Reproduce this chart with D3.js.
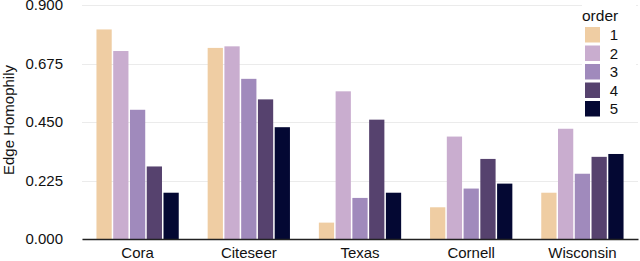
<!DOCTYPE html>
<html>
<head>
<meta charset="utf-8">
<script src="https://cdn.jsdelivr.net/npm/d3@7"></script>
<style>
  body { margin: 0; background: #fff; }
  svg text { font-family: "Liberation Sans", Arial, sans-serif; }
</style>
</head>
<body>
<svg id="chart" width="640" height="261"></svg>
<script>
// datasets and orders
var datasets = ["Cora", "Citeseer", "Texas", "Cornell", "Wisconsin"];
var orders = ["1", "2", "3", "4", "5"];
var order1 = [0.806, 0.735, 0.063, 0.122, 0.178];
var order2 = [0.723, 0.741, 0.568, 0.394, 0.424];
var order3 = [0.497, 0.616, 0.158, 0.194, 0.251];
var order4 = [0.279, 0.537, 0.459, 0.308, 0.316];
var order5 = [0.178, 0.430, 0.178, 0.213, 0.327];
var yTicks = [0, 0.225, 0.45, 0.675, 0.9];
var colors = ["#efcda3", "#c9adcf", "#a08abc", "#56426e", "#040833"];

var series = [order1, order2, order3, order4, order5];

var margin = { top: 5, right: 2, bottom: 22, left: 82 };
var width = 640 - margin.left - margin.right;
var height = 261 - margin.top - margin.bottom;

var svg = d3.select("#chart")
    .append("g")
    .attr("transform", "translate(" + margin.left + "," + margin.top + ")");

var x0 = d3.scaleBand().domain(datasets).range([0, width]).paddingInner(0.26).paddingOuter(0.13);
var x1 = d3.scaleBand().domain(orders).range([0, x0.bandwidth()]).paddingInner(0.09).paddingOuter(0);
var y = d3.scaleLinear().domain([0, 0.9]).range([height, 0]);

// grid lines
svg.append("g")
    .selectAll("line")
    .data(yTicks)
    .enter().append("line")
    .attr("x1", 0)
    .attr("x2", width)
    .attr("y1", function (d) { return Math.round(y(d)) + 0.5; })
    .attr("y2", function (d) { return Math.round(y(d)) + 0.5; })
    .attr("stroke", "#ebebeb")
    .attr("stroke-width", 1);

// y axis labels
svg.append("g")
    .attr("class", "yaxis")
    .call(d3.axisLeft(y).tickValues(yTicks).tickFormat(d3.format(".3f")).tickSize(0).tickPadding(19))
    .call(function (g) { g.select(".domain").remove(); })
    .selectAll("text")
    .attr("font-size", 15)
    .attr("fill", "#111");

// bars
var groups = svg.selectAll(".group")
    .data(datasets)
    .enter().append("g")
    .attr("class", "group")
    .attr("transform", function (d) { return "translate(" + x0(d) + ",0)"; });

groups.selectAll("rect")
    .data(function (d, i) {
        return series.map(function (s, k) { return { key: orders[k], value: s[i], color: colors[k] }; });
    })
    .enter().append("rect")
    .attr("x", function (d) { return x1(d.key); })
    .attr("width", x1.bandwidth())
    .attr("y", function (d) { return y(d.value); })
    .attr("height", function (d) { return height - y(d.value); })
    .attr("fill", function (d) { return d.color; });

// x axis
svg.append("g")
    .attr("transform", "translate(0," + height + ")")
    .call(d3.axisBottom(x0).tickSize(0).tickPadding(8.5))
    .call(function (g) {
        g.select(".domain").attr("stroke", "#222").attr("stroke-width", 1.6);
        g.selectAll("text").attr("font-size", 15).attr("fill", "#111");
    });

// y axis title
svg.append("text")
    .attr("transform", "translate(" + (9 - margin.left) + "," + (120 - margin.top) + ") rotate(-90)")
    .attr("text-anchor", "middle")
    .attr("dy", "0.35em")
    .attr("font-size", 15)
    .attr("fill", "#111")
    .text("Edge Homophily");

// legend
var legend = d3.select("#chart").append("g")
    .attr("transform", "translate(584,6)");

legend.append("rect")
    .attr("x", -2).attr("y", -4)
    .attr("width", 54).attr("height", 116)
    .attr("fill", "#fff");

legend.append("text")
    .attr("x", -2).attr("y", 15)
    .attr("font-size", 15.5)
    .attr("fill", "#111")
    .text("order");

var keys = legend.selectAll(".key")
    .data(orders)
    .enter().append("g")
    .attr("class", "key")
    .attr("transform", function (d, i) { return "translate(1," + (21 + i * 18.5) + ")"; });

keys.append("rect")
    .attr("width", 15)
    .attr("height", 15.5)
    .attr("fill", function (d, i) { return colors[i]; });

keys.append("text")
    .attr("x", 33)
    .attr("y", 8)
    .attr("dy", "0.35em")
    .attr("text-anchor", "end")
    .attr("font-size", 15)
    .attr("fill", "#111")
    .text(function (d) { return d; });
</script>
</body>
</html>
